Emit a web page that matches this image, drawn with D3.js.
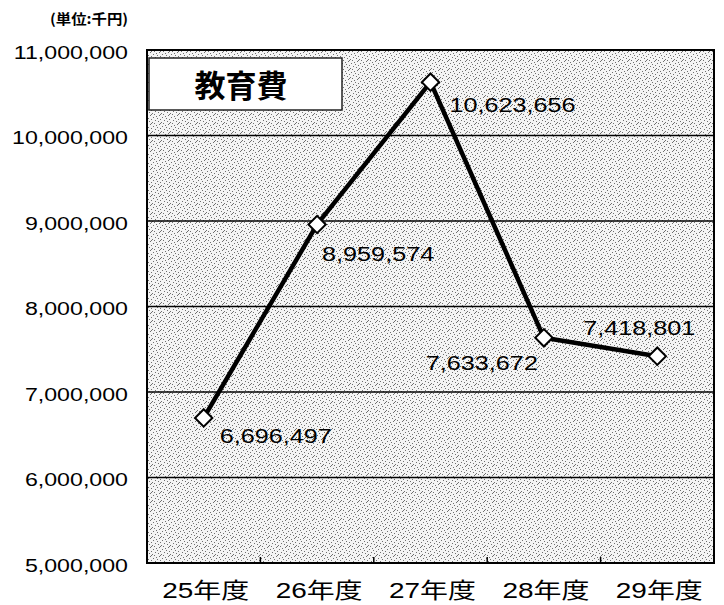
<!DOCTYPE html>
<html><head><meta charset="utf-8">
<script src="https://cdn.jsdelivr.net/npm/d3@7"></script>
<style>body{margin:0;background:#fff}svg{display:block}</style>
</head><body>
<svg id="c" width="724" height="605"></svg>
<script>
const categories = ["25年度","26年度","27年度","28年度","29年度"];
const values = [6696497, 8959574, 10623656, 7633672, 7418801];
const yTicks = [5000000,6000000,7000000,8000000,9000000,10000000,11000000];
const title = "教育費";
const unitLabel = "(単位:千円)";
// label offsets relative to point [dx, dy(baseline), anchor]
const labelOffsets = [[16,25,"start"],[5,37,"start"],[19,30,"start"],[-6,32,"end"],[-74,-21,"start"]];

const svg = d3.select("#c");
const m = {l:147, r:714, t:50, b:563};
const x = d3.scaleBand().domain(categories).range([m.l, m.r]);
const y = d3.scaleLinear().domain([5000000, 11000000]).range([m.b, m.t]);
const fmt = d3.format(",");
const LAT = "'Liberation Sans', Arial, 'Noto Sans CJK JP', sans-serif";

// horizontal glyph stretch around the text anchor point
function stretch(sel, f){
  sel.each(function(){
    const x0 = +(this.getAttribute("x") || 0);
    const prev = this.getAttribute("transform") || "";
    d3.select(this).attr("transform", `${prev} translate(${x0},0) scale(${f},1) translate(${-x0},0)`);
  });
}

// stipple pattern (fixed halftone-like tile)
const defs = svg.append("defs");
const pat = defs.append("pattern").attr("id","stip").attr("width",9).attr("height",9).attr("patternUnits","userSpaceOnUse");
pat.append("rect").attr("width",9).attr("height",9).attr("fill","#f4f4f4");
[[0,0],[4,1],[7,2],[2,3],[5,4],[8,5],[1,6],[6,7],[3,8],[7,6]].forEach(p=>pat.append("rect").attr("x",p[0]).attr("y",p[1]).attr("width",1).attr("height",1).attr("fill","#707070"));

svg.append("rect").attr("x",m.l).attr("y",m.t).attr("width",m.r-m.l).attr("height",m.b-m.t).attr("fill","url(#stip)");

// gridlines
svg.append("g").selectAll("line").data(yTicks.slice(1,-1)).join("line")
  .attr("x1",m.l).attr("x2",m.r).attr("y1",d=>y(d)).attr("y2",d=>y(d))
  .attr("stroke","#000").attr("stroke-width",1.5);

// y axis labels
const yAxis = d3.axisLeft(y).tickValues(yTicks).tickFormat(fmt).tickSize(0).tickPadding(19);
const ya = svg.append("g").attr("transform",`translate(${m.l},2)`).call(yAxis);
ya.select(".domain").remove();
ya.selectAll("text").attr("font-family",LAT).attr("font-size",19).attr("fill","#000").call(stretch,1.22);

// x axis labels
svg.append("g").selectAll("text").data(categories).join("text")
  .attr("x",d=>x(d)+x.bandwidth()/2+2).attr("y",598).attr("text-anchor","middle")
  .attr("font-family",LAT).attr("font-size",22).attr("fill","#000").text(d=>d).call(stretch,1.27);

// category separator ticks
svg.append("g").selectAll("line").data(categories.slice(1)).join("line")
  .attr("x1",d=>x(d)).attr("x2",d=>x(d)).attr("y1",m.b).attr("y2",m.b-6)
  .attr("stroke","#000").attr("stroke-width",1.5);

// border
svg.append("rect").attr("x",m.l).attr("y",m.t).attr("width",m.r-m.l).attr("height",m.b-m.t)
  .attr("fill","none").attr("stroke","#000").attr("stroke-width",2);

// title box
svg.append("rect").attr("x",149).attr("y",58).attr("width",193).attr("height",52)
  .attr("fill","#fff").attr("stroke","#222").attr("stroke-width",1.5);
svg.append("text").attr("x",241).attr("y",97).attr("text-anchor","middle")
  .attr("font-family","'Noto Sans CJK JP', sans-serif").attr("font-weight",700).attr("font-size",31).text(title);

// unit label
svg.append("text").attr("x",50).attr("y",24)
  .attr("font-family","'Noto Sans CJK JP', sans-serif").attr("font-weight",700).attr("font-size",14)
  .text(unitLabel).call(stretch,1.1);

// line
const pts = categories.map((c,i)=>({c, v:values[i], i}));
const line = d3.line().x(d=>x(d.c)+x.bandwidth()/2).y(d=>y(d.v));
svg.append("path").datum(pts).attr("d",line).attr("fill","none").attr("stroke","#000").attr("stroke-width",4.5).attr("stroke-linejoin","round");

// markers
svg.append("g").selectAll("path").data(pts).join("path")
  .attr("d",d3.symbol().type(d3.symbolSquare).size(150))
  .attr("transform",d=>`translate(${x(d.c)+x.bandwidth()/2},${y(d.v)}) rotate(45)`)
  .attr("fill","#fff").attr("stroke","#000").attr("stroke-width",2);

// value labels
svg.append("g").selectAll("text").data(pts).join("text")
  .attr("x",d=>x(d.c)+x.bandwidth()/2+labelOffsets[d.i][0])
  .attr("y",d=>y(d.v)+labelOffsets[d.i][1])
  .attr("text-anchor",d=>labelOffsets[d.i][2])
  .attr("font-family",LAT).attr("font-size",21).attr("fill","#000")
  .text(d=>fmt(d.v)).call(stretch,1.2);
</script>
</body></html>
